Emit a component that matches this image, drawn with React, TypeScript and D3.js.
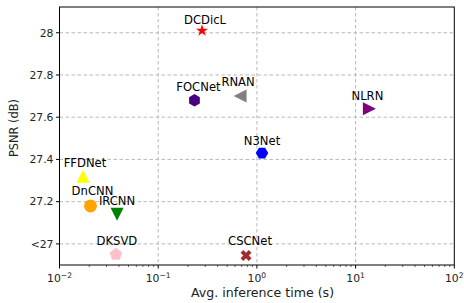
import * as d3 from "d3";
import React from "react";

// methods and their measured (time, PSNR)
const methods = ["DCDicL", "FOCNet", "RNAN", "NLRN", "N3Net", "FFDNet", "DnCNN", "IRCNN", "DKSVD", "CSCNet"];
const times = [0.278, 0.233, 0.675, 13.8, 1.127, 0.0173, 0.0206, 0.0383, 0.0373, 0.776];
const psnr = [28.01, 27.68, 27.7, 27.64, 27.43, 27.32, 27.18, 27.14, 26.95, 26.945];
const colors = ["red", "indigo", "gray", "purple", "blue", "yellow", "orange", "green", "pink", "brown"];
const markers = ["star", "hexagon", "triLeft", "triRight", "hexagon2", "triUp", "circle", "triDown", "pentagon", "x"];
// label offsets (px) relative to the marker
const labelOffsets: [number, number][] = [
  [3, -7], [4, -9], [-2, -10], [-2, -9], [0, -8], [2, -9], [2, -11], [0, -9], [1, -9], [4, -10],
];

const yTicks = [27, 27.2, 27.4, 27.6, 27.8, 28];
const yTickLabels = ["<27", "27.2", "27.4", "27.6", "27.8", "28"];
const xTickExps = [-2, -1, 0, 1, 2];

const width = 464;
const height = 303;
const left = 59.5;
const right = 454.3;
const top = 7;
const bottom = 265;
const font = "DejaVu Sans";

function polygon(n: number, r: number, rot: number) {
  const pts: [number, number][] = d3.range(n).map((i) => {
    const a = rot + (i * 2 * Math.PI) / n;
    return [r * Math.sin(a), -r * Math.cos(a)];
  });
  return "M" + pts.map((p) => p.join(",")).join("L") + "Z";
}

function star(r: number) {
  const inner = r * 0.381966;
  const pts: [number, number][] = d3.range(10).map((i) => {
    const a = (i * Math.PI) / 5;
    const rr = i % 2 === 0 ? r : inner;
    return [rr * Math.sin(a), -rr * Math.cos(a)];
  });
  return "M" + pts.map((p) => p.join(",")).join("L") + "Z";
}

function xShape(s: number) {
  const t = 1 / 3;
  const plus: [number, number][] = [
    [-t, -1], [t, -1], [t, -t], [1, -t], [1, t], [t, t], [t, 1], [-t, 1], [-t, t], [-1, t], [-1, -t], [-t, -t],
  ];
  const c = Math.SQRT1_2;
  const pts = plus.map(([x, y]) => [(x * c - y * c) * s, (x * c + y * c) * s]);
  return "M" + pts.map((p) => p.join(",")).join("L") + "Z";
}

function markerPath(m: string) {
  switch (m) {
    case "star": return star(6.3);
    case "hexagon": return polygon(6, 6.2, 0);
    case "hexagon2": return polygon(6, 6.2, Math.PI / 6);
    case "triUp": return "M0,-6.5L6.5,6.5L-6.5,6.5Z";
    case "triDown": return "M0,6.5L6.5,-6.5L-6.5,-6.5Z";
    case "triLeft": return "M-6.5,0L6.5,-6.5L6.5,6.5Z";
    case "triRight": return "M6.5,0L-6.5,-6.5L-6.5,6.5Z";
    case "circle": return d3.symbol(d3.symbolCircle, Math.PI * 6.5 * 6.5)() ?? "";
    case "pentagon": return polygon(5, 6.6, 0);
    case "x": return xShape(5.8);
  }
  return "";
}

export default function App() {
  const x = d3.scaleLog([0.01, 100], [left, right]);
  const y = d3.scaleLinear([26.9, 28.122], [bottom, top]);

  const minorTicks: number[] = [];
  for (let e = -2; e < 2; e++) {
    for (let k = 2; k <= 9; k++) minorTicks.push(k * Math.pow(10, e));
  }

  return (
    <svg width={width} height={height} style={{ position: "absolute", left: 0, top: 0, background: "white" }} fontFamily={font}>
      {/* grid */}
      <g stroke="#b0b0b0" strokeWidth={0.9} strokeDasharray="3.5,2.5">
        {xTickExps.slice(1, -1).map((e) => (
          <line key={e} x1={x(Math.pow(10, e))} x2={x(Math.pow(10, e))} y1={top} y2={bottom} />
        ))}
        {yTicks.map((v) => (
          <line key={v} x1={left} x2={right} y1={y(v)} y2={y(v)} />
        ))}
      </g>

      {/* markers */}
      {methods.map((name, i) => (
        <path key={name} transform={`translate(${x(times[i])},${y(psnr[i])})`} d={markerPath(markers[i])} fill={colors[i]} />
      ))}

      {/* labels */}
      <g fontSize={11.6} textAnchor="middle" fill="black">
        {methods.map((name, i) => (
          <text key={name} x={x(times[i]) + labelOffsets[i][0]} y={y(psnr[i]) + labelOffsets[i][1]}>
            {name}
          </text>
        ))}
      </g>

      {/* frame */}
      <rect x={left} y={top} width={right - left} height={bottom - top} fill="none" stroke="black" strokeWidth={1} />

      {/* y axis */}
      <g fontSize={10.8} textAnchor="end">
        {yTicks.map((v, i) => (
          <g key={v} transform={`translate(${left},${y(v)})`}>
            <line x2={-3.5} stroke="black" />
            <text x={-6} dy="0.35em" fill="#222">{yTickLabels[i]}</text>
          </g>
        ))}
      </g>

      {/* x axis */}
      <g transform={`translate(0,${bottom})`}>
        {minorTicks.map((t) => (
          <line key={t} x1={x(t)} x2={x(t)} y2={2} stroke="black" strokeWidth={0.6} />
        ))}
        {xTickExps.map((e) => (
          <g key={e} transform={`translate(${x(Math.pow(10, e))},0)`}>
            <line y2={3.5} stroke="black" />
            <text y={17} textAnchor="middle" fontSize={10.8} fill="#222">
              10
              <tspan dy={-4.5} fontSize={7.6}>{e < 0 ? "\u2212" + Math.abs(e) : String(e)}</tspan>
            </text>
          </g>
        ))}
      </g>

      <text x={262.5} y={297} textAnchor="middle" fontSize={12.6} fill="#222">
        Avg. inference time (s)
      </text>
      <text transform={`translate(18,128) rotate(-90)`} textAnchor="middle" fontSize={11.4} fill="#222">
        PSNR (dB)
      </text>
    </svg>
  );
}
